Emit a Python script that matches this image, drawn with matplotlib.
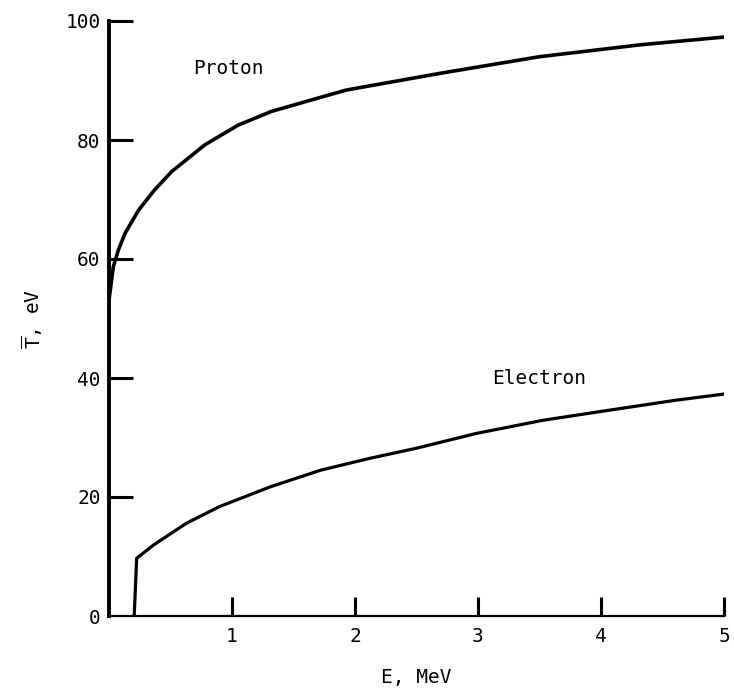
import matplotlib
matplotlib.use("Agg")
import matplotlib.pyplot as plt

proton_E = [0.0, 0.035, 0.076, 0.13, 0.24, 0.37, 0.51, 0.78, 1.05, 1.32, 1.59, 1.93, 2.69, 3.50, 4.32, 5.0]
proton_T = [53.1, 58.7, 61.5, 64.3, 68.2, 71.6, 74.7, 79.2, 82.5, 84.8, 86.4, 88.4, 91.2, 94.0, 96.0, 97.3]

electron_E = [0.205, 0.225, 0.36, 0.63, 0.90, 1.31, 1.72, 2.12, 2.50, 2.99, 3.53, 4.07, 4.62, 5.0]
electron_T = [0.0, 9.7, 11.9, 15.6, 18.4, 21.7, 24.5, 26.5, 28.2, 30.7, 32.9, 34.6, 36.3, 37.3]

x_ticks = [1, 2, 3, 4, 5]
y_ticks = [0, 20, 40, 60, 80, 100]

font = "DejaVu Sans Mono"
plt.rcParams['font.family'] = [font, 'DejaVu Sans']
plt.rcParams['mathtext.fontset'] = 'custom'
plt.rcParams['mathtext.rm'] = font

fig = plt.figure(figsize=(7.34, 6.91), dpi=100)
ax = fig.add_axes([109/734, 1 - 616/691, (724-109)/734, (616-21)/691])

ax.plot(proton_E, proton_T, color='black', lw=2.6, solid_joinstyle='round')
ax.plot(electron_E, electron_T, color='black', lw=2.3, solid_joinstyle='miter')

ax.set_xlim(0, 5)
ax.set_ylim(0, 100)
ax.spines['top'].set_visible(False)
ax.spines['right'].set_visible(False)
ax.spines['left'].set_linewidth(2.8)
ax.spines['bottom'].set_linewidth(1.6)

ax.set_xticks(x_ticks)
ax.set_xticklabels([str(v) for v in x_ticks])
ax.set_yticks(y_ticks)
ax.set_yticklabels([str(v) for v in y_ticks])
ax.tick_params(axis='x', direction='in', length=14, width=2.2, labelsize=14, pad=8)
ax.tick_params(axis='y', direction='in', length=17, width=2.2, labelsize=14, pad=6)
ax.yaxis.get_major_ticks()[0].tick1line.set_visible(False)

ax.text(0.97, 92.0, "Proton", fontsize=14, ha='center', va='center')
ax.text(3.50, 40.0, "Electron", fontsize=14, ha='center', va='center')

ax.set_xlabel("E, MeV", fontsize=14, labelpad=16)
ax.set_ylabel(r"$\overline{\mathrm{T}}$, eV", fontsize=14, labelpad=15)

fig.savefig("out.png", dpi=100, facecolor='white')
